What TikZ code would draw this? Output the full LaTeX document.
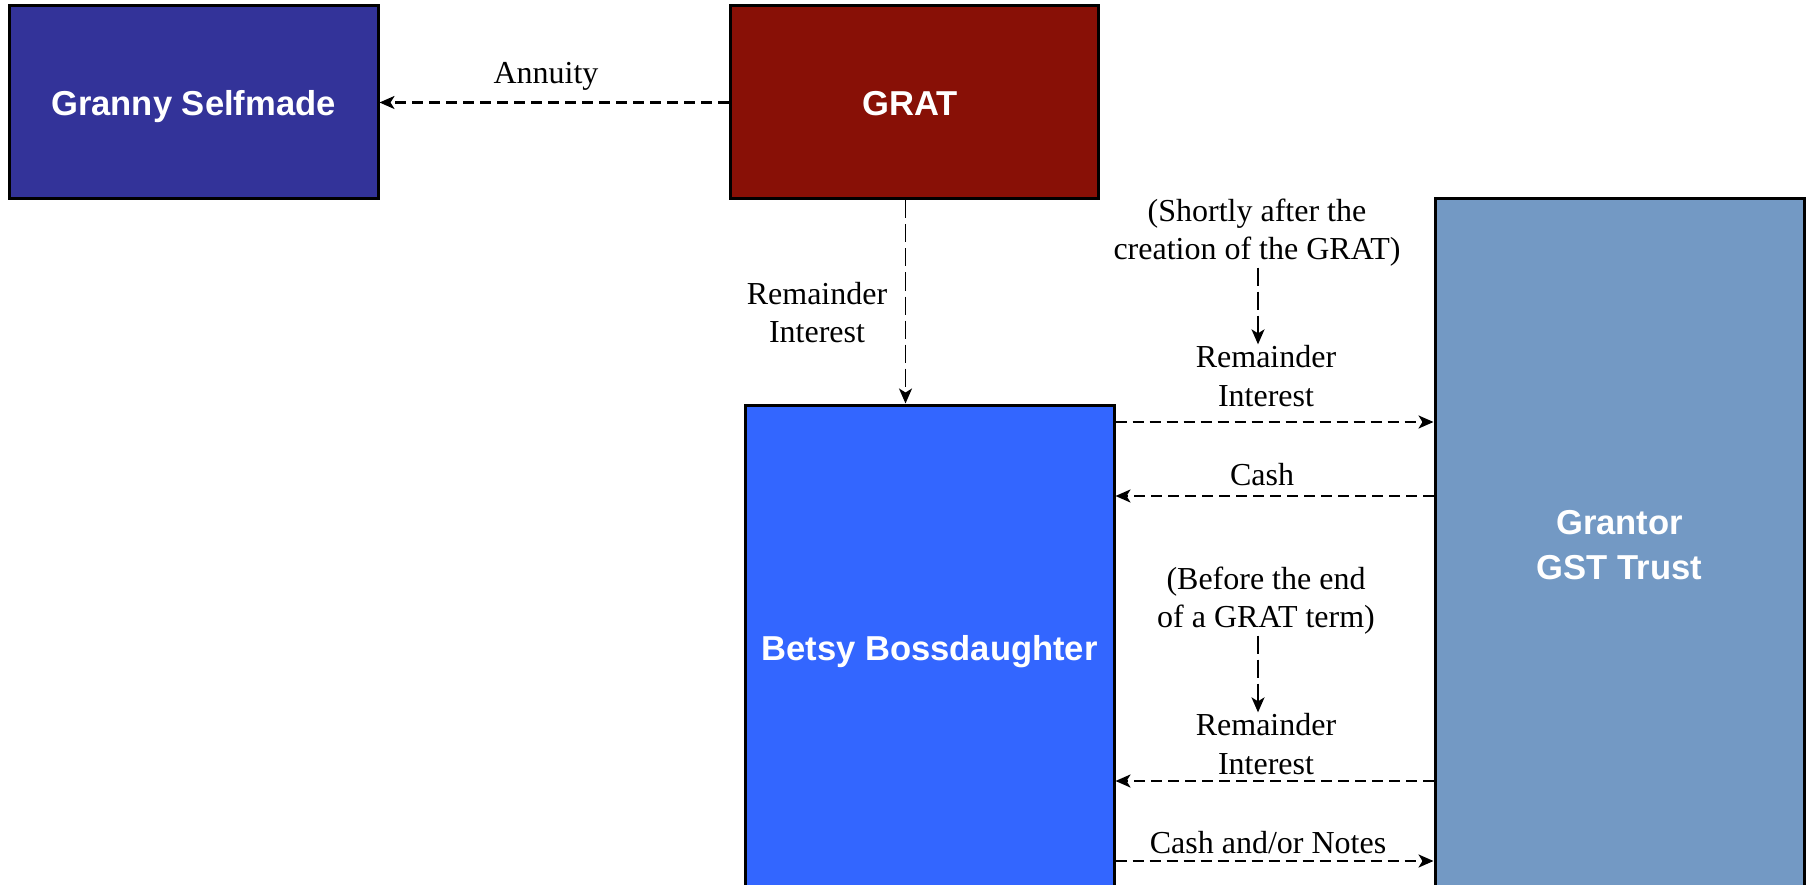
\documentclass[tikz,border=0pt]{standalone}
\usepackage{fontspec}
\setmainfont{Liberation Serif}
\newfontfamily\boxfont{Liberation Sans}
\usetikzlibrary{arrows.meta}
\definecolor{grannyc}{RGB}{51,51,153}
\definecolor{gratc}{RGB}{136,16,6}
\definecolor{betsyc}{RGB}{51,102,255}
\definecolor{trustc}{RGB}{115,153,196}
\tikzset{
  box/.style={draw=black, line width=3pt, text=white, align=center, inner sep=0pt,
    font=\boxfont\bfseries\fontsize{34.6}{45}\selectfont},
  lbl/.style={align=center, inner sep=1pt, font=\fontsize{32}{38.4}\selectfont},
  arr/.style={line width=2.4pt, dash pattern=on 11pt off 6pt, -{Stealth[length=15pt,width=13pt,inset=4pt]}},
  varr/.style={line width=1.8pt, dash pattern=on 18pt off 6pt, -{Stealth[length=15pt,width=13pt,inset=4pt]}},
}
\begin{document}
\begin{tikzpicture}[x=1pt,y=-1pt]
\useasboundingbox (0,0) rectangle (1806,885);
\fill[white] (0,0) rectangle (1806,885);
\begin{scope}
\clip (0,0) rectangle (1806,885);
\node[box, fill=grannyc, minimum width=369pt, minimum height=193pt] (granny) at (193.5,102.5) {\raisebox{-4pt}[\height][\depth]{Granny Selfmade}};
\node[box, fill=gratc, minimum width=368pt, minimum height=193pt] (grat) at (914,102.5) {\raisebox{-1pt}[\height][\depth]{GRAT}\hspace*{8pt}};
\node[box, fill=betsyc, minimum width=369pt, minimum height=487pt] (betsy) at (929.5,648.5) {\raisebox{-3pt}[\height][\depth]{Betsy Bossdaughter}};
\node[box, fill=trustc, minimum width=369pt, minimum height=692pt] (trust) at (1619.5,545) {Grantor\\GST Trust};

\node[lbl] (lann) at (546,76) {Annuity};
\node[lbl] (lri0) at (817,312.5) {Remainder\\Interest};
\node[lbl] (ln1) at (1257,232.5) {(Shortly after the\\creation of the GRAT)};
\node[lbl] (lri1) at (1266,376) {Remainder\\Interest};
\node[lbl] (lcash) at (1262,475) {Cash};
\node[lbl] (ln2) at (1266,600.5) {(Before the end\\of a GRAT term)};
\node[lbl] (lri2) at (1266,744) {Remainder\\Interest};
\node[lbl] (lcn) at (1268,843) {Cash and/or Notes};

\coordinate (vx) at (905.5,0);
\coordinate (ax) at (1258,0);
\coordinate (y1) at (0,422);
\coordinate (y2) at (0,496);
\coordinate (y3) at (0,781);
\coordinate (y4) at (0,861);

\draw[arr] (grat.west) -- (granny.east);
\draw[varr] (grat.south -| vx) -- (betsy.north -| vx);
\draw[arr] (betsy.east |- y1) -- (trust.west |- y1);
\draw[arr] (trust.west |- y2) -- (betsy.east |- y2);
\draw[arr] (trust.west |- y3) -- (betsy.east |- y3);
\draw[arr] (betsy.east |- y4) -- (trust.west |- y4);
\draw[varr] (ln1.south -| ax) -- (lri1.north -| ax);
\draw[varr] (ln2.south -| ax) -- (lri2.north -| ax);
\end{scope}
\end{tikzpicture}
\end{document}
